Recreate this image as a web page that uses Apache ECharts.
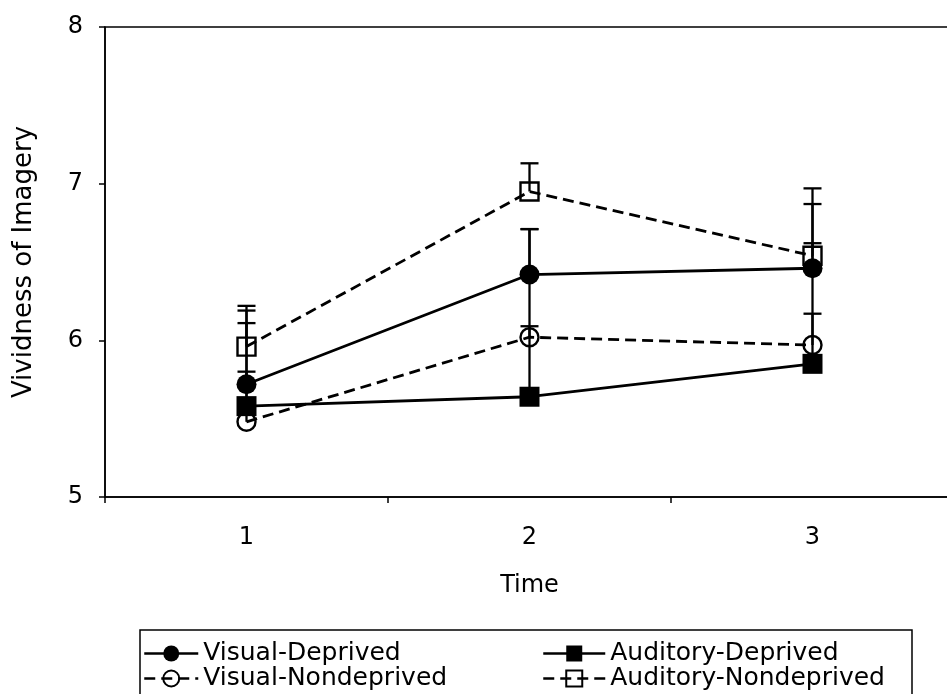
<!DOCTYPE html>
<html>
<head>
<meta charset="utf-8">
<script src="https://cdn.jsdelivr.net/npm/echarts@6/dist/echarts.min.js"></script>
<style>
  html, body { margin: 0; padding: 0; background: #fff; }
  #chart { width: 947px; height: 694px; }
</style>
</head>
<body>
<div id="chart"></div>
<script>
// Time points
const times = ['1', '2', '3'];

// Group means of vividness ratings
const visualDeprived = [5.72, 6.42, 6.46];
const visualNondeprived = [5.48, 6.02, 5.97];
const auditoryDeprived = [5.58, 5.64, 5.85];
const auditoryNondeprived = [5.96, 6.95, 6.54];

// Upper ends of the error bars
const visualDeprivedHi = [6.11, 6.71, 6.87];
const visualNondeprivedHi = [5.80, 6.71, 6.17];
const auditoryDeprivedHi = [6.19, 6.09, 6.62];
const auditoryNondeprivedHi = [6.22, 7.13, 6.97];

// Y axis range
const yMin = 5, yMax = 8, yStep = 1;

const FONT = 'DejaVu Sans';

function errorData(means, highs) {
  return means.map((m, i) => [i, m, highs[i]]);
}

function errorSeries(name, means, highs) {
  return {
    type: 'custom',
    name: name + ' error',
    z: 1,
    silent: true,
    encode: { x: 0, y: [1, 2] },
    data: errorData(means, highs),
    renderItem: function (params, api) {
      const p0 = api.coord([api.value(0), api.value(1)]);
      const p1 = api.coord([api.value(0), api.value(2)]);
      const half = 9;
      const st = { stroke: '#000', lineWidth: 2.3 };
      return {
        type: 'group',
        children: [
          { type: 'line', shape: { x1: p0[0], y1: p0[1], x2: p1[0], y2: p1[1] }, style: st },
          { type: 'line', shape: { x1: p1[0] - half, y1: p1[1], x2: p1[0] + half, y2: p1[1] }, style: st }
        ]
      };
    }
  };
}

function lineSeries(name, values, symbol, filled, dashed) {
  return {
    type: 'line',
    name: name,
    z: 3,
    data: values,
    symbol: symbol,
    symbolSize: filled ? 20 : 18,
    showAllSymbol: true,
    lineStyle: { color: '#000', width: 2.8, type: dashed ? [11, 6] : 'solid' },
    itemStyle: {
      color: filled ? '#000' : 'rgba(255,255,255,0)',
      borderColor: '#000',
      borderWidth: filled ? 0 : 2.4
    },
    emphasis: { disabled: true }
  };
}

const chart = echarts.init(document.getElementById('chart'), null, { renderer: 'canvas' });

const legendText = { fontFamily: FONT, fontSize: 25, color: '#000', lineHeight: 25, padding: [0, 0, 0, 0] };

chart.setOption({
  animation: false,
  backgroundColor: '#fff',
  grid: {
    left: 105, top: 27, width: 849, height: 470,
    outerBoundsMode: 'none',
    containLabel: false,
    show: true, borderColor: '#000', borderWidth: 1.5, backgroundColor: 'transparent'
  },
  xAxis: {
    type: 'category',
    data: times,
    boundaryGap: true,
    name: 'Time',
    nameLocation: 'middle',
    nameGap: 77,
    nameTextStyle: { fontFamily: FONT, fontSize: 24, color: '#000' },
    axisLine: { lineStyle: { color: '#000', width: 1.5 } },
    axisTick: { show: true, inside: false, length: 6, lineStyle: { color: '#000', width: 1.5 } },
    axisLabel: { fontFamily: FONT, fontSize: 24, color: '#000', margin: 29 },
    splitLine: { show: false }
  },
  yAxis: {
    type: 'value',
    min: yMin, max: yMax, interval: yStep,
    name: 'Vividness of Imagery',
    nameLocation: 'middle',
    nameGap: 68,
    nameTextStyle: { fontFamily: FONT, fontSize: 26, color: '#000' },
    axisLine: { show: true, lineStyle: { color: '#000', width: 1.5 } },
    axisTick: { show: true, inside: false, length: 6, lineStyle: { color: '#000', width: 1.5 } },
    axisLabel: { fontFamily: FONT, fontSize: 24, color: '#000', margin: 22 },
    splitLine: { show: false }
  },
  legend: [
    {
      orient: 'vertical', left: 143, top: 641, height: 60,
      padding: 0,
      itemWidth: 54, itemHeight: 20, itemGap: 0,
      data: ['Visual-Deprived', 'Visual-Nondeprived'],
      lineStyle: { width: 2.5 },
      textStyle: legendText, selectedMode: false
    },
    {
      orient: 'vertical', left: 542, top: 641, height: 60,
      padding: 0,
      itemWidth: 62, itemHeight: 20, itemGap: 0,
      data: ['Auditory-Deprived', 'Auditory-Nondeprived'],
      lineStyle: { width: 2.5 },
      textStyle: legendText, selectedMode: false
    }
  ],
  graphic: [
    {
      type: 'rect', silent: true, z: -1,
      shape: { x: 140, y: 630, width: 772, height: 80 },
      style: { fill: '#fff', stroke: '#000', lineWidth: 1.5 }
    }
  ],
  series: [
    errorSeries('Visual-Deprived', visualDeprived, visualDeprivedHi),
    errorSeries('Visual-Nondeprived', visualNondeprived, visualNondeprivedHi),
    errorSeries('Auditory-Deprived', auditoryDeprived, auditoryDeprivedHi),
    errorSeries('Auditory-Nondeprived', auditoryNondeprived, auditoryNondeprivedHi),
    lineSeries('Visual-Deprived', visualDeprived, 'circle', true, false),
    lineSeries('Visual-Nondeprived', visualNondeprived, 'circle', false, true),
    lineSeries('Auditory-Deprived', auditoryDeprived, 'rect', true, false),
    lineSeries('Auditory-Nondeprived', auditoryNondeprived, 'rect', false, true)
  ]
});
</script>
</body>
</html>
